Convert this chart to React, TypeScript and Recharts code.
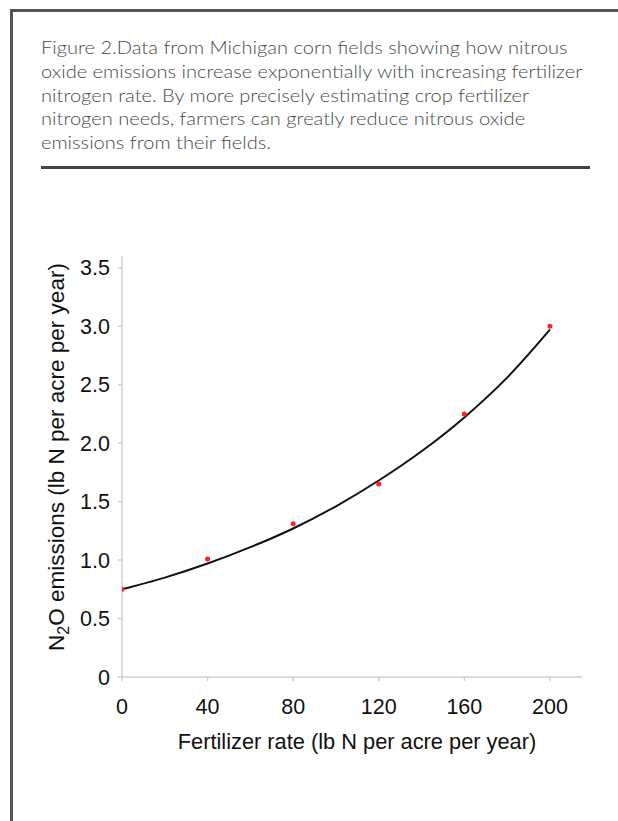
import React from "react"
import { ComposedChart, Line, Scatter, XAxis, YAxis, Label } from "recharts"

// measured N2O emissions (red dots)
const rates = [0, 40, 80, 120, 160, 200]
const emissions = [0.75, 1.01, 1.31, 1.65, 2.25, 3.0]

// fitted exponential curve
const fitRates = [0, 20, 40, 60, 80, 100, 120, 140, 160, 180, 200]
const fitEmissions = [0.75, 0.85, 0.97, 1.11, 1.27, 1.46, 1.68, 1.93, 2.22, 2.56, 2.97]

const xTicks = [0, 40, 80, 120, 160, 200]
const yTicks = [0, 0.5, 1.0, 1.5, 2.0, 2.5, 3.0, 3.5]

const captionLines = [
  "Figure 2.Data from Michigan corn fields showing how nitrous",
  "oxide emissions increase exponentially with increasing fertilizer",
  "nitrogen rate. By more precisely estimating crop fertilizer",
  "nitrogen needs, farmers can greatly reduce nitrous oxide",
  "emissions from their fields.",
]

const points = rates.map((x, i) => ({ x, y: emissions[i] }))
const fit = fitRates.map((x, i) => ({ x, y: fitEmissions[i] }))

const AXIS = "#cfcfcf"
const TICK_FONT = "'Liberation Sans', Arial, sans-serif"

const XTick = ({ x, y, payload }: any) => (
  <text x={x} y={y + 33} textAnchor="middle" fontFamily={TICK_FONT} fontSize={21.5} fill="#111">
    {payload.value}
  </text>
)

const YTick = ({ x, y, payload }: any) => (
  <text x={x} y={y + 7.5} textAnchor="end" fontFamily={TICK_FONT} fontSize={21.5} fill="#111">
    {payload.value === 0 ? "0" : payload.value.toFixed(1)}
  </text>
)

const YTitle = () => (
  <text
    x={0}
    y={0}
    transform="translate(64, 457) rotate(-90)"
    textAnchor="middle"
    fontFamily={TICK_FONT}
    fontSize={22.5}
    fill="#111"
  >
    <tspan>N</tspan>
    <tspan dy={5} fontSize={16}>2</tspan>
    <tspan dy={-5}>O emissions (lb N per acre per year)</tspan>
  </text>
)

const XTitle = () => (
  <text x={357} y={749} textAnchor="middle" fontFamily={TICK_FONT} fontSize={21.8} fill="#111">
    Fertilizer rate (lb N per acre per year)
  </text>
)

export default function App() {
  return (
    <div style={{ position: "absolute", left: 0, top: 0, width: 618, height: 821, overflow: "hidden", background: "#fff" }}>
      {/* frame */}
      <div style={{ position: "absolute", left: 10, top: 9, width: 620, height: 3, background: "#555" }} />
      <div style={{ position: "absolute", left: 10, top: 9, width: 3, height: 830, background: "#555" }} />

      <div
        style={{
          position: "absolute",
          left: 41,
          top: 36,
          fontFamily: "Lato, 'Open Sans', sans-serif",
          fontWeight: 300,
          fontSize: 18,
          lineHeight: "23.75px",
          color: "#4a4a4a",
          whiteSpace: "nowrap",
          transform: "scaleX(1.115)",
          transformOrigin: "0 0",
        }}
      >
        {captionLines.map((l) => (
          <div key={l}>{l}</div>
        ))}
      </div>
      <div style={{ position: "absolute", left: 41, top: 166, width: 549, height: 2.5, background: "#444" }} />

      <div style={{ position: "absolute", left: 0, top: 0 }}>
        <ComposedChart width={618} height={821} margin={{ top: 256, right: 36, bottom: 114, left: 82 }}>
          <XAxis
            type="number"
            dataKey="x"
            domain={[0, 215]}
            ticks={xTicks}
            allowDataOverflow
            stroke={AXIS}
            strokeWidth={1.5}
            tickSize={4}
            tickMargin={0}
            height={30}
            tick={<XTick />}
          >
            <Label content={<XTitle />} />
          </XAxis>
          <YAxis
            type="number"
            dataKey="y"
            domain={[0, 3.6]}
            ticks={yTicks}
            allowDataOverflow
            stroke={AXIS}
            strokeWidth={1.5}
            tickSize={4}
            tickMargin={8}
            width={40}
            tick={<YTick />}
          >
            <Label content={<YTitle />} />
          </YAxis>
          <Line
            data={fit}
            dataKey="y"
            type="monotone"
            stroke="#111"
            strokeWidth={2}
            dot={false}
            activeDot={false}
            isAnimationActive={false}
          />
          <Scatter
            data={points}
            dataKey="y"
            fill="#f22"
            shape={(p: any) => <circle cx={p.cx} cy={p.cy} r={2.5} fill="#f22" />}
            isAnimationActive={false}
          />
        </ComposedChart>
      </div>
    </div>
  )
}
